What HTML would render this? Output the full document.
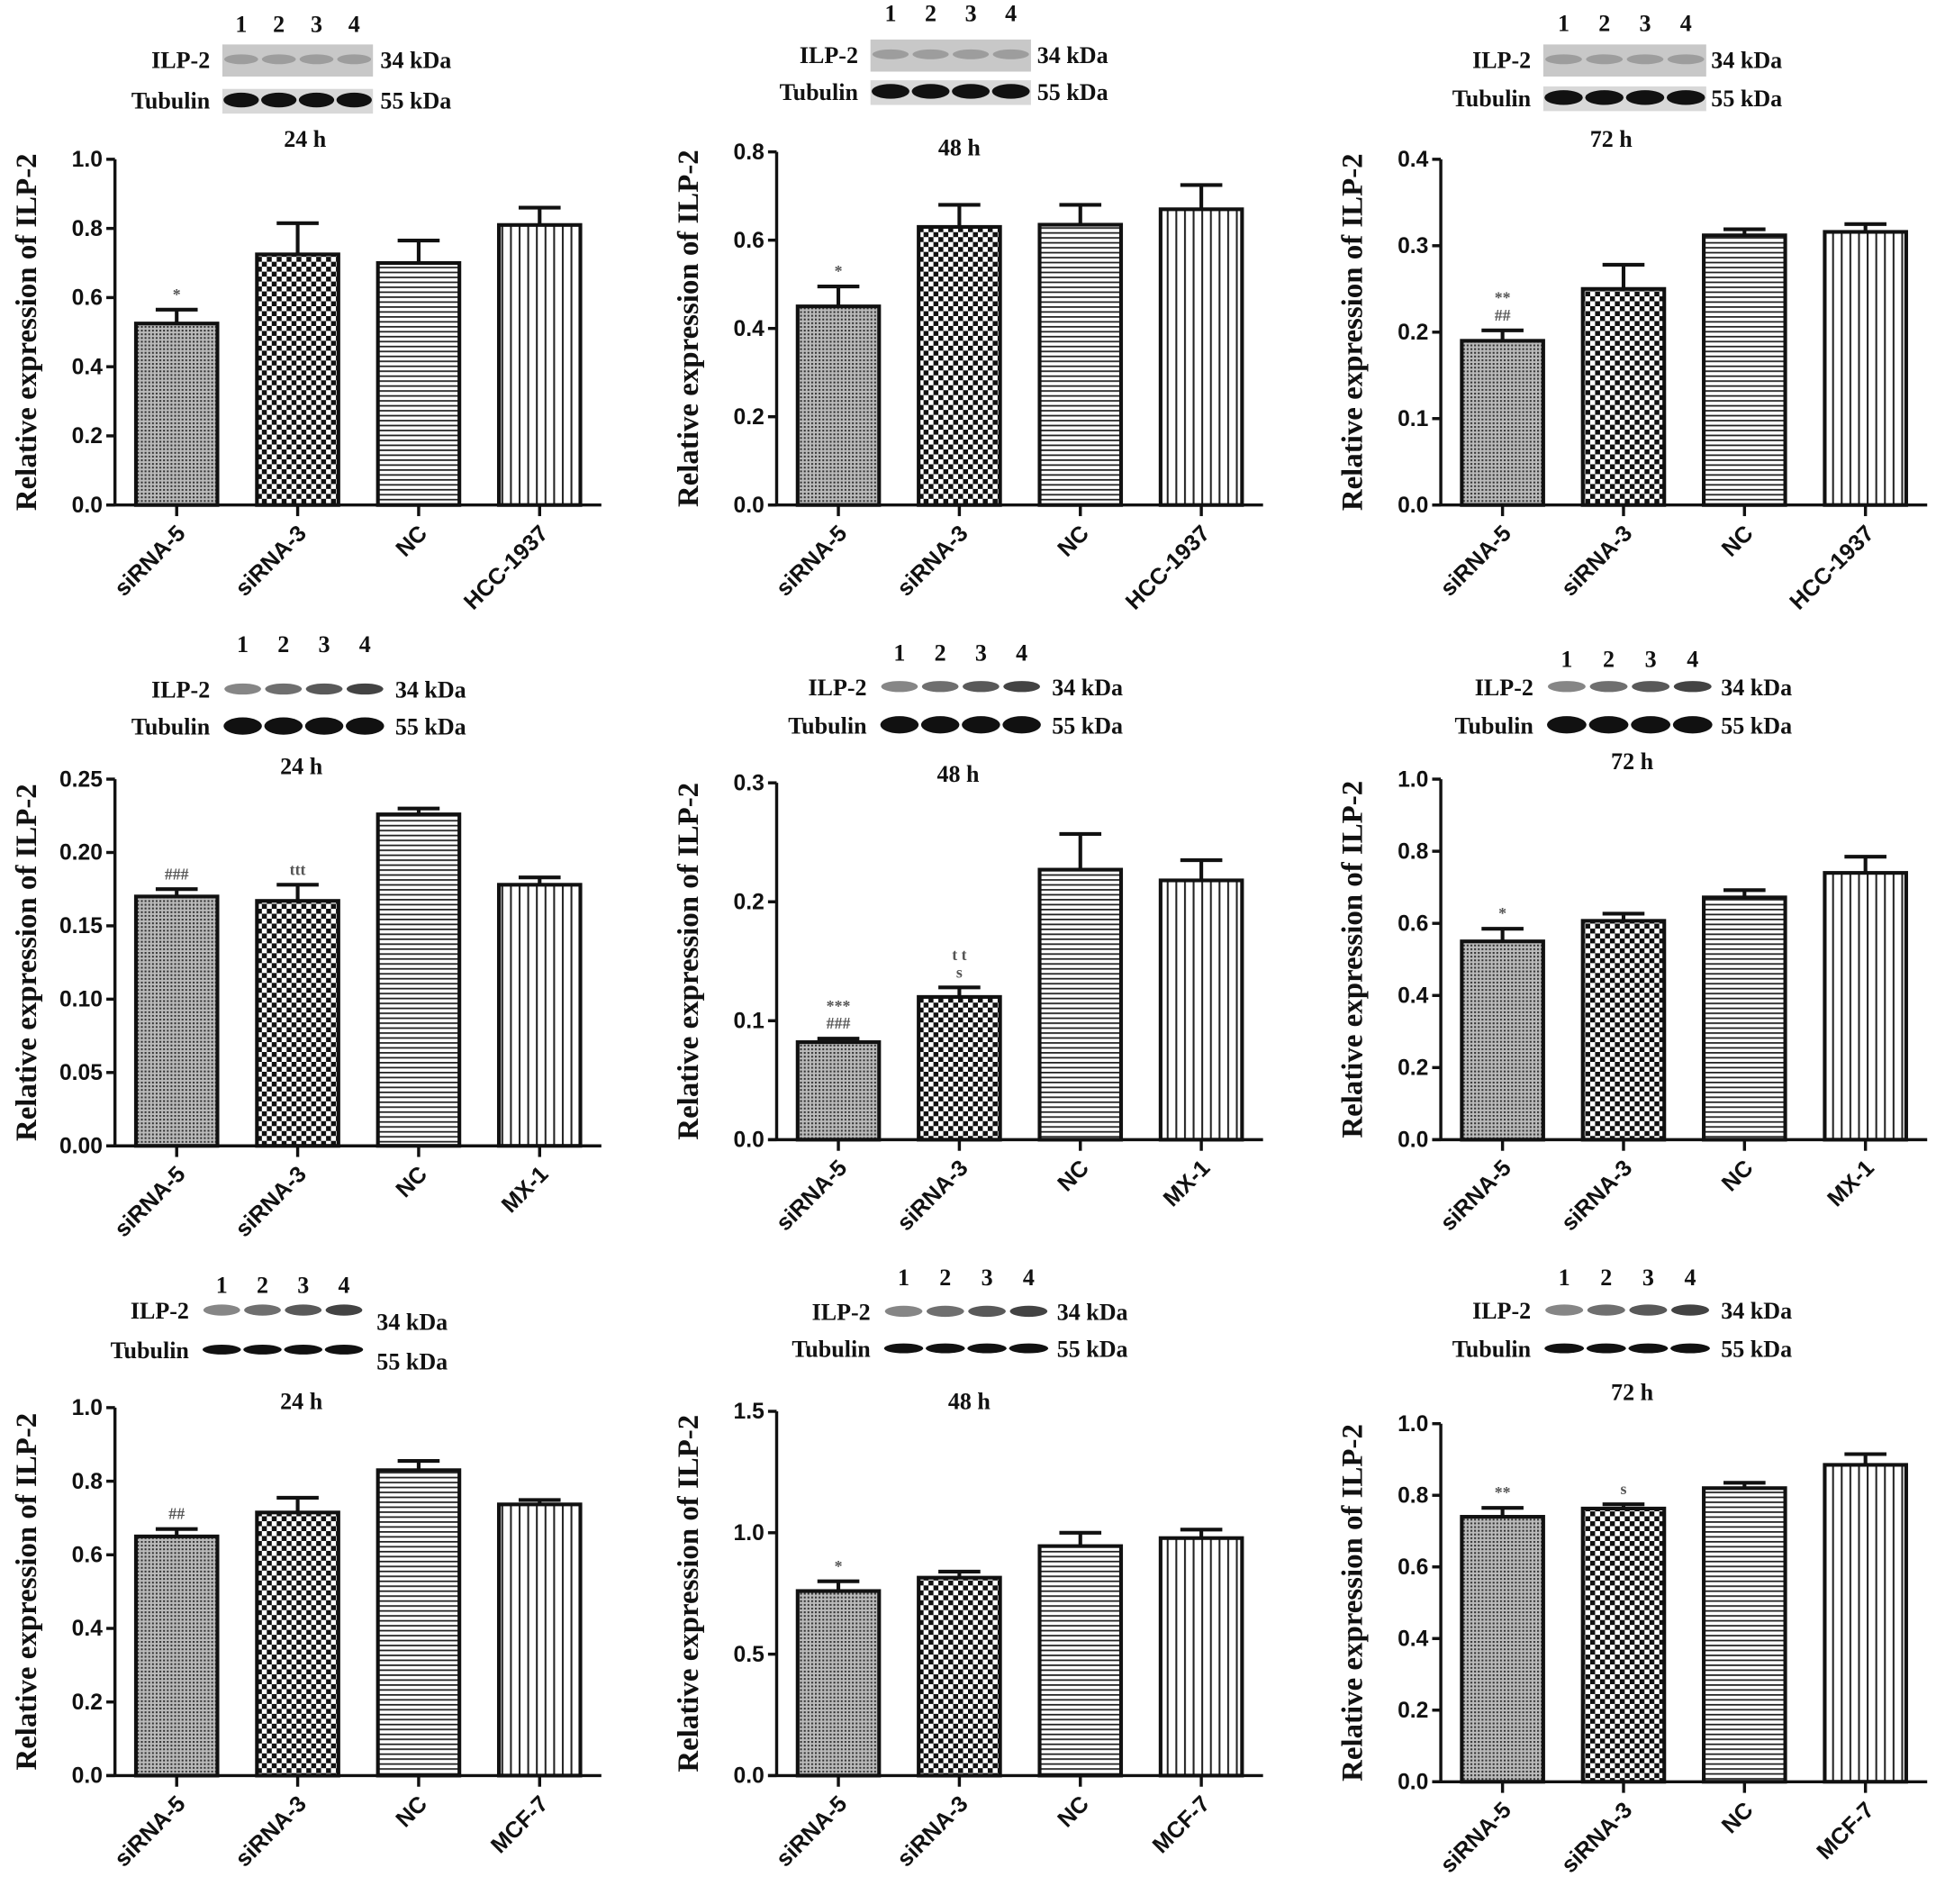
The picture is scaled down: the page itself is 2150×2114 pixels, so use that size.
<!DOCTYPE html>
<html><head><meta charset="utf-8"><style>
html,body{margin:0;padding:0;background:#fff;}
svg{display:block;}
.tick{font-family:"Liberation Sans",sans-serif;font-weight:bold;font-size:18px;fill:#111;}
.cat{font-family:"Liberation Sans",sans-serif;font-weight:bold;font-size:18.5px;fill:#111;}
.ytitle{font-family:"Liberation Serif",serif;font-weight:bold;font-size:24px;fill:#111;}
.blot{font-family:"Liberation Serif",serif;font-weight:bold;font-size:19px;fill:#111;}
.ann{font-family:"Liberation Serif",serif;font-weight:bold;font-size:13px;fill:#555;}
</style></head><body>
<svg id="fig" width="2150" height="2114" viewBox="0 0 1568 1542" xmlns="http://www.w3.org/2000/svg">
<defs>
<pattern id="pDots" width="3" height="3" patternUnits="userSpaceOnUse"><rect width="3" height="3" fill="#bbb"/><rect width="1.5" height="1.5" fill="#333"/></pattern>
<pattern id="pCheck" width="8" height="8" patternUnits="userSpaceOnUse"><rect width="8" height="8" fill="#fff"/><rect width="4" height="4" fill="#111"/><rect x="4" y="4" width="4" height="4" fill="#111"/></pattern>
<pattern id="pHoriz" width="4" height="4" patternUnits="userSpaceOnUse"><rect width="4" height="4" fill="#fff"/><rect y="0" width="4" height="1.3" fill="#222"/></pattern>
<pattern id="pVert" width="7" height="7" patternUnits="userSpaceOnUse"><rect width="7" height="7" fill="#fff"/><rect x="0" width="1.5" height="7" fill="#222"/></pattern>
</defs>
</svg>
<script>
// ---- data arrays ----
const cats1 = ["siRNA-5","siRNA-3","NC","HCC-1937"];
const cats2 = ["siRNA-5","siRNA-3","NC","MX-1"];
const cats3 = ["siRNA-5","siRNA-3","NC","MCF-7"];
const p1Values = [0.525,0.725,0.70,0.81];   const p1Errors = [0.04,0.09,0.065,0.05];
const p2Values = [0.45,0.63,0.635,0.67];    const p2Errors = [0.045,0.05,0.045,0.055];
const p3Values = [0.19,0.25,0.312,0.316];   const p3Errors = [0.012,0.028,0.007,0.009];
const p4Values = [0.17,0.167,0.226,0.178];  const p4Errors = [0.005,0.011,0.004,0.005];
const p5Values = [0.082,0.12,0.227,0.218];  const p5Errors = [0.003,0.008,0.03,0.017];
const p6Values = [0.55,0.607,0.672,0.74];   const p6Errors = [0.035,0.02,0.02,0.045];
const p7Values = [0.65,0.715,0.83,0.737];   const p7Errors = [0.02,0.04,0.025,0.012];
const p8Values = [0.76,0.815,0.945,0.978];  const p8Errors = [0.04,0.025,0.055,0.035];
const p9Values = [0.74,0.763,0.82,0.885];   const p9Errors = [0.025,0.012,0.015,0.03];
const p1Ticks = ["0.0","0.2","0.4","0.6","0.8","1.0"];
const p2Ticks = ["0.0","0.2","0.4","0.6","0.8"];
const p3Ticks = ["0.0","0.1","0.2","0.3","0.4"];
const p4Ticks = ["0.00","0.05","0.10","0.15","0.20","0.25"];
const p5Ticks = ["0.0","0.1","0.2","0.3"];
const p6Ticks = ["0.0","0.2","0.4","0.6","0.8","1.0"];
const p7Ticks = ["0.0","0.2","0.4","0.6","0.8","1.0"];
const p8Ticks = ["0.0","0.5","1.0","1.5"];
const p9Ticks = ["0.0","0.2","0.4","0.6","0.8","1.0"];
const p1Ann = [["*"],[],[],[]];
const p2Ann = [["*"],[],[],[]];
const p3Ann = [["##","**"],[],[],[]];
const p4Ann = [["###"],["ttt"],[],[]];
const p5Ann = [["###","***"],["s","t t"],[],[]];
const p6Ann = [["*"],[],[],[]];
const p7Ann = [["##"],[],[],[]];
const p8Ann = [["*"],[],[],[]];
const p9Ann = [["**"],["s"],[],[]];
const timeLabels = ["24 h","48 h","72 h","24 h","48 h","72 h","24 h","48 h","72 h"];

const panels = [
 {ax:93, top:129, base:409, vals:p1Values, errs:p1Errors, ticks:p1Ticks, cats:cats1, ann:p1Ann, nums:26, ilp:50, tub:83, bx:180, bw:122, tx:247, ty:119, kx:308, faint:true},
 {ax:629,top:123, base:409, vals:p2Values, errs:p2Errors, ticks:p2Ticks, cats:cats1, ann:p2Ann, nums:17, ilp:46, tub:76, bx:705, bw:130, tx:777, ty:126, kx:840, faint:true},
 {ax:1167,top:129,base:409, vals:p3Values, errs:p3Errors, ticks:p3Ticks, cats:cats1, ann:p3Ann, nums:25, ilp:50, tub:81, bx:1250, bw:132, tx:1305, ty:119, kx:1386, faint:true},
 {ax:93, top:631, base:928, vals:p4Values, errs:p4Errors, ticks:p4Ticks, cats:cats2, ann:p4Ann, nums:528, ilp:560, tub:590, bx:180, bw:132, tx:244, ty:627, kx:320, faint:false},
 {ax:629,top:634, base:923, vals:p5Values, errs:p5Errors, ticks:p5Ticks, cats:cats2, ann:p5Ann, nums:535, ilp:558, tub:589, bx:712, bw:132, tx:776, ty:633, kx:852, faint:false},
 {ax:1167,top:631,base:923, vals:p6Values, errs:p6Errors, ticks:p6Ticks, cats:cats2, ann:p6Ann, nums:540, ilp:558, tub:589, bx:1252, bw:136, tx:1322, ty:623, kx:1394, faint:false},
 {ax:93, top:1140,base:1438,vals:p7Values, errs:p7Errors, ticks:p7Ticks, cats:cats3, ann:p7Ann, nums:1047, ilp:1063, tub:1095, bx:163, bw:132, tx:244, ty:1141, kx:305, faint:false, kdy:9},
 {ax:629,top:1143,base:1438,vals:p8Values, errs:p8Errors, ticks:p8Ticks, cats:cats3, ann:p8Ann, nums:1041, ilp:1064, tub:1094, bx:715, bw:135, tx:785, ty:1141, kx:856, faint:false},
 {ax:1167,top:1153,base:1443,vals:p9Values, errs:p9Errors, ticks:p9Ticks, cats:cats3, ann:p9Ann, nums:1041, ilp:1063, tub:1094, bx:1250, bw:136, tx:1322, ty:1134, kx:1394, faint:false}
];
const fills = ["url(#pDots)","url(#pCheck)","url(#pHoriz)","url(#pVert)"];
const NS = "http://www.w3.org/2000/svg";
const svg = document.getElementById("fig");
function mk(tag, attrs, parent, text){
  const e = document.createElementNS(NS, tag);
  for (const k in attrs) e.setAttribute(k, attrs[k]);
  if (text !== undefined) e.textContent = text;
  parent.appendChild(e); return e;
}

panels.forEach((p, pi) => {
  const g = mk("g", {}, svg);
  
  
  const n = p.ticks.length - 1;
  const maxV = parseFloat(p.ticks[n]);
  const yS = v => p.base - (v / maxV) * (p.base - p.top);
  const xS = i => p.ax + 50 + i * 98;
  const right = p.ax + 394;

  const wb = mk("g", {}, g);
  
  
  const laneW = p.bw / 4;
  for (let i = 0; i < 4; i++) {
    const t = mk("text", {x: p.bx + laneW*(i+0.5), y: p.nums, "text-anchor":"middle", class:"blot"}, wb, String(i+1));
    
    
  }
  if (p.faint) {
    mk("rect", {x:p.bx, y:p.ilp-14, width:p.bw, height:26, fill:"#c8c8c8"}, wb);
    mk("rect", {x:p.bx, y:p.tub-11, width:p.bw, height:20, fill:"#d8d8d8"}, wb);
  }
  for (let i = 0; i < 4; i++) {
    const cx = p.bx + laneW*(i+0.5);
    mk("ellipse", {cx:cx, cy:p.ilp-2, rx:laneW*0.45, ry:p.faint?4:4.5, fill:p.faint?"#8a8a8a":"#222", opacity:p.faint?0.7:(0.55+i*0.1)}, wb);
    mk("ellipse", {cx:cx, cy:p.tub-2, rx:laneW*0.47, ry:p.faint?6:(pi<6?7:4), fill:"#111"}, wb);
  }
  const kdy = p.kdy || 0;
  mk("text", {x:p.bx-10, y:p.ilp+5, "text-anchor":"end", class:"blot"}, wb, "ILP-2");
  mk("text", {x:p.bx-10, y:p.tub+5, "text-anchor":"end", class:"blot"}, wb, "Tubulin");
  mk("text", {x:p.kx, y:p.ilp+5+kdy, class:"blot"}, wb, "34 kDa");
  mk("text", {x:p.kx, y:p.tub+5+kdy, class:"blot"}, wb, "55 kDa");
  const tl = mk("text", {x:p.tx, y:p.ty, "text-anchor":"middle", class:"blot", "font-size":"22"}, g, timeLabels[pi]);
  
  

  const yt = mk("text", {x:0, y:0, transform:`translate(${p.ax-64},${(p.top+p.base)/2}) rotate(-90)`, "text-anchor":"middle", class:"ytitle"}, g, "Relative expression of ILP-2");
  
  

  p.vals.forEach((v, i) => {
    const cx = xS(i), y = yS(v), ye = yS(v + p.errs[i]);
    mk("line", {x1:cx, x2:cx, y1:y, y2:ye, stroke:"#111", "stroke-width":3}, g);
    mk("line", {x1:cx-17, x2:cx+17, y1:ye, y2:ye, stroke:"#111", "stroke-width":3}, g);
    const b = mk("rect", {x:cx-33, y:y, width:66, height:p.base-y, fill:fills[i], stroke:"#111", "stroke-width":3}, g);
    
    
    p.ann[i].forEach((a, k) => {
      const an = mk("text", {x:cx, y:ye - 8 - k*14, "text-anchor":"middle", class:"ann"}, g, a);
      
      
    });
    mk("line", {x1:cx, x2:cx, y1:p.base, y2:p.base+9, stroke:"#111", "stroke-width":2.5}, g);
    const c = mk("text", {x:0, y:0, transform:`translate(${cx+8},${p.base+24}) rotate(-45)`, "text-anchor":"end", class:"cat"}, g, p.cats[i]);
    
    
  });

  const ya = mk("line", {x1:p.ax, x2:p.ax, y1:p.top, y2:p.base, stroke:"#111", "stroke-width":2.5}, g);
  
  
  const xa = mk("line", {x1:p.ax-7, x2:right, y1:p.base, y2:p.base, stroke:"#111", "stroke-width":2.5}, g);
  
  
  p.ticks.forEach((t) => {
    const y = yS(parseFloat(t));
    mk("line", {x1:p.ax-7, x2:p.ax, y1:y, y2:y, stroke:"#111", "stroke-width":2.5}, g);
    const tt = mk("text", {x:p.ax-10, y:y+6, "text-anchor":"end", class:"tick"}, g, t);
    
    
  });
});
</script>
</body></html>
